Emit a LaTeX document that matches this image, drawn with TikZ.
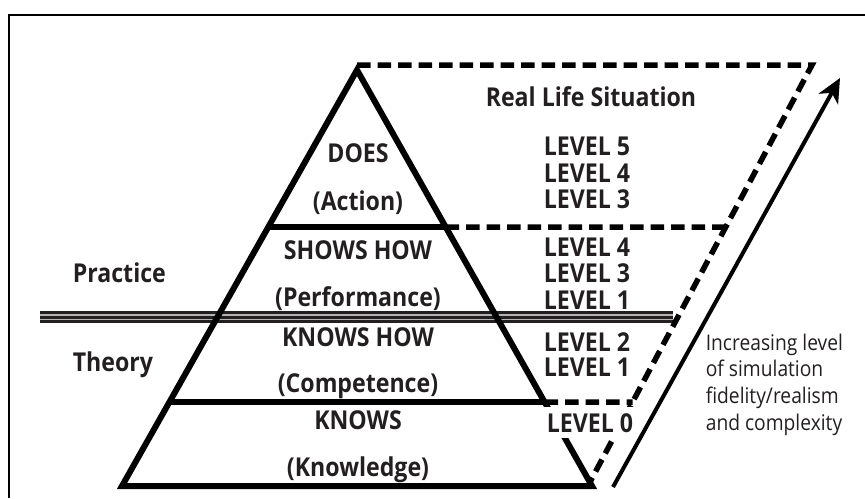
\documentclass[tikz,border=0pt]{standalone}
\usepackage{fontspec}
\setmainfont{Open Sans}[FakeStretch=0.89]
\usetikzlibrary{arrows.meta}

\definecolor{ink}{HTML}{231F20}

\tikzset{
  pyr/.style={line width=3pt, line join=miter},
  dashline/.style={line width=2.75pt, dash pattern=on 6.75pt off 3.5pt},
  lbl/.style={anchor=base, inner sep=0pt, text=ink, font=\bfseries\fontsize{13}{15}\selectfont},
  lvl/.style={lbl, anchor=base west},
}

\begin{document}
\begin{tikzpicture}[x=0.5pt, y=-0.5pt, thick]

    % 0. Canvas and frame
    \useasboundingbox (0,0) rectangle (865,498);
    \draw[line width=1.25pt] (9,498) -- (9,15) -- (865,15);

    % 1. Pyramid corners
    \coordinate (A) at (357,70);
    \coordinate (BL) at (122,486);
    \coordinate (BR) at (592,486);

    % 2. Corners of the dashed frame
    \coordinate (P) at (812,65);
    \coordinate (Q) at (590,482);

    % 3. Level boundaries on the pyramid sides
    \coordinate (L1) at (intersection of A--BL and 0,227--865,227);
    \coordinate (R1) at (intersection of A--BR and 0,227--865,227);
    \coordinate (L2) at (intersection of A--BL and 0,402--865,402);
    \coordinate (R2) at (intersection of A--BR and 0,402--865,402);
    \coordinate (D1) at (intersection of P--Q and 0,227--865,227);
    \coordinate (D2) at (intersection of P--Q and 0,402--865,402);

    % 4. Practice / theory divide
    \draw[line width=6pt, ink] (40,317) -- (673,317);
    \draw[line width=0.6pt, gray!60] (40,315) -- (673,315);
    \draw[line width=0.6pt, gray!60] (40,319.5) -- (673,319.5);

    % 5. The pyramid
    \draw[pyr] (A) -- (BL) -- (BR) -- cycle;
    \draw[pyr] (L1) -- (R1);
    \draw[pyr] (L2) -- (R2);

    % 6. Dashed extension
    \draw[dashline] (A |- P) -- (P) -- (Q);
    \draw[dashline] (R1) -- (D1);
    \draw[dashline] (R2) -- (D2);

    % 7. Arrow of fidelity
    \coordinate (S) at (613,487);
    \coordinate (E) at (840,78);
    \draw[line width=2pt, -{Stealth[length=12pt, width=11pt, inset=3.5pt]}] (S) -- (E);

    % 8. Pyramid labels
    \node[lbl] (does) at (358,162) {DOES};
    \node[lbl] (action) at (358,210) {(Action)};
    \node[lbl] (shows) at (358,259) {SHOWS HOW};
    \node[lbl] (perf) at (358,306) {(Performance)};
    \node[lbl] (knowshow) at (358,346) {KNOWS HOW};
    \node[lbl] (comp) at (358,392) {(Competence)};
    \node[lbl] (knows) at (358,429) {KNOWS};
    \node[lbl] (know) at (358,476) {(Knowledge)};

    % 9. Side labels
    \node[lvl] (practice) at (72,282) {Practice};
    \node[lvl] (theory) at (72,371) {Theory};

    % 10. Level column
    \node[lbl] (real) at (591,106) {Real Life Situation};
    \node[lvl] (v5) at (543,155) {LEVEL 5};
    \node[lvl] (v4) at (543,182) {LEVEL 4};
    \node[lvl] (v3) at (543,208) {LEVEL 3};
    \node[lvl] (w4) at (543,256) {LEVEL 4};
    \node[lvl] (w3) at (543,282) {LEVEL 3};
    \node[lvl] (w1) at (543,309) {LEVEL 1};
    \node[lvl] (k2) at (543,351) {LEVEL 2};
    \node[lvl] (k1) at (543,376) {LEVEL 1};
    \node[lvl, fill=white, inner xsep=1.5pt, inner ysep=3pt] (k0) at (543,432) {LEVEL 0};

    % 11. Arrow caption
    \node[anchor=north west, inner sep=0pt, align=left, text=ink,
          font=\fontsize{10.8}{13.35}\selectfont] (cap) at (705,333)
      {Increasing level\\of simulation\\fidelity/realism\\and complexity};

\end{tikzpicture}
\end{document}
